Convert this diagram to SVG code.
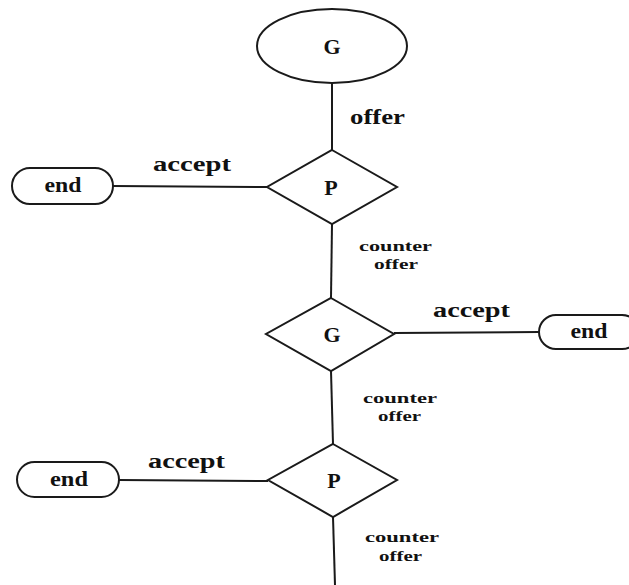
<svg xmlns="http://www.w3.org/2000/svg" width="629" height="585" viewBox="0 0 629 585">
  <style>
    .shape { fill: #ffffff; stroke: #1a1a1a; stroke-width: 2; }
    .edge { stroke: #1a1a1a; stroke-width: 2; fill: none; }
    text { font-family: "Liberation Serif", "Times New Roman", serif; font-weight: bold; fill: #111111; }
    .node-label { font-size: 22px; text-anchor: middle; }
    .end-label { font-size: 20px; text-anchor: middle; }
    .edge-label { font-size: 20px; }
    .small-label { font-size: 15px; }
  </style>
  <rect width="629" height="585" fill="#ffffff"/>

  <!-- connectors -->
  <g id="connectors">
    <line class="edge" x1="332" y1="83" x2="332" y2="150"/>
    <line class="edge" x1="113" y1="186" x2="267" y2="187"/>
    <line class="edge" x1="332" y1="224" x2="331" y2="298"/>
    <line class="edge" x1="394" y1="333" x2="539" y2="332"/>
    <line class="edge" x1="331" y1="371" x2="333" y2="444"/>
    <line class="edge" x1="119" y1="480" x2="268" y2="481"/>
    <line class="edge" x1="333" y1="517" x2="335" y2="585"/>

    <text class="edge-label" x="350" y="124" textLength="55" lengthAdjust="spacingAndGlyphs">offer</text>
    <text class="edge-label" x="153" y="171" textLength="78" lengthAdjust="spacingAndGlyphs">accept</text>
    <text class="small-label" x="359" y="251" textLength="73" lengthAdjust="spacingAndGlyphs">counter</text>
    <text class="small-label" x="374" y="269" textLength="44" lengthAdjust="spacingAndGlyphs">offer</text>
    <text class="edge-label" x="433" y="317" textLength="77" lengthAdjust="spacingAndGlyphs">accept</text>
    <text class="small-label" x="363" y="403" textLength="74" lengthAdjust="spacingAndGlyphs">counter</text>
    <text class="small-label" x="378" y="421" textLength="43" lengthAdjust="spacingAndGlyphs">offer</text>
    <text class="edge-label" x="148" y="468" textLength="77" lengthAdjust="spacingAndGlyphs">accept</text>
    <text class="small-label" x="365" y="542" textLength="74" lengthAdjust="spacingAndGlyphs">counter</text>
    <text class="small-label" x="379" y="561" textLength="43" lengthAdjust="spacingAndGlyphs">offer</text>
  </g>

  <!-- start state -->
  <g id="g-start">
    <ellipse class="shape" cx="332" cy="46" rx="75" ry="37"/>
    <text class="node-label" x="332" y="54">G</text>
  </g>

  <!-- first decision -->
  <g id="p-1">
    <polygon class="shape" points="332,150 397,187 332,224 267,187"/>
    <text class="node-label" x="331" y="195">P</text>
  </g>
  <g id="end-1">
    <rect class="shape" x="12" y="168" width="101" height="36" rx="18" ry="18"/>
    <text class="end-label" x="63" y="192" textLength="37" lengthAdjust="spacingAndGlyphs">end</text>
  </g>

  <!-- second decision -->
  <g id="g-2">
    <polygon class="shape" points="331,298 394,334 331,371 266,334"/>
    <text class="node-label" x="332" y="342">G</text>
  </g>
  <g id="end-2">
    <rect class="shape" x="539" y="315" width="100" height="34" rx="17" ry="17"/>
    <text class="end-label" x="589" y="338" textLength="37" lengthAdjust="spacingAndGlyphs">end</text>
  </g>

  <!-- third decision -->
  <g id="p-3">
    <polygon class="shape" points="333,444 397,480 333,517 268,480"/>
    <text class="node-label" x="334" y="488">P</text>
  </g>
  <g id="end-3">
    <rect class="shape" x="17" y="462" width="102" height="35" rx="17.5" ry="17.5"/>
    <text class="end-label" x="69" y="486" textLength="38" lengthAdjust="spacingAndGlyphs">end</text>
  </g>
</svg>
